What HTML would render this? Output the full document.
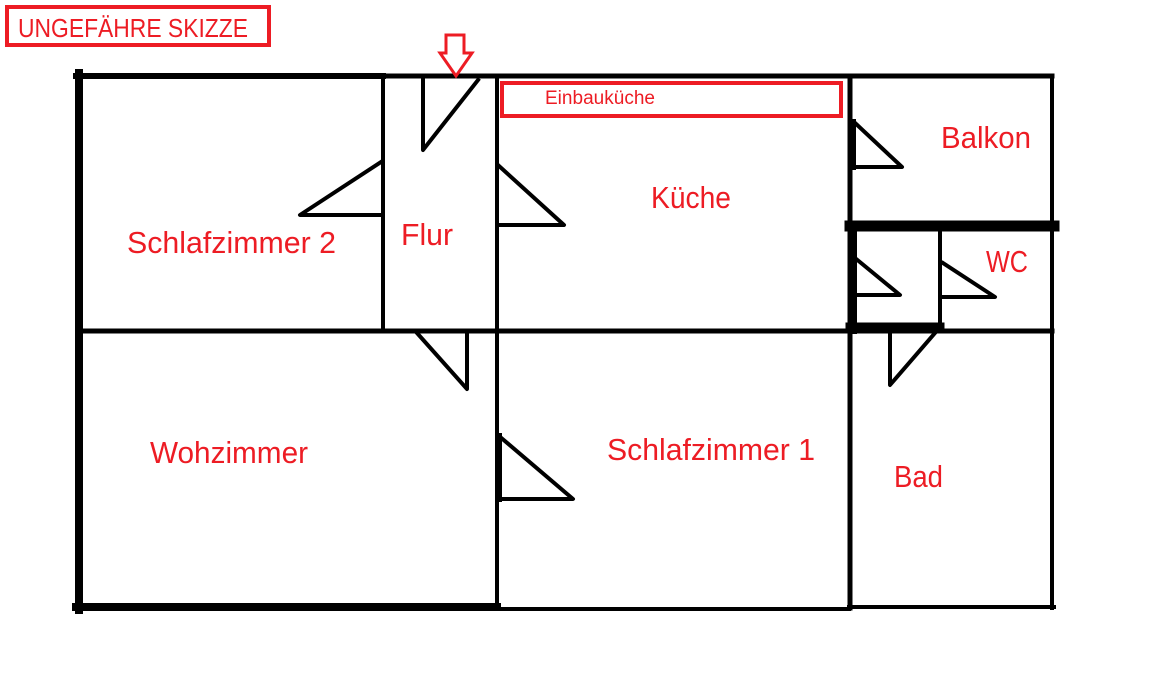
<!DOCTYPE html>
<html><head><meta charset="utf-8"><style>
html,body{margin:0;padding:0;background:#fff;}
svg{display:block;}
text{font-family:"Liberation Sans",sans-serif;fill:#ed1c24;}
</style></head><body>
<svg width="1152" height="688" viewBox="0 0 1152 688" xmlns="http://www.w3.org/2000/svg">
<rect width="1152" height="688" fill="#fff"/>
<g stroke="#000" fill="none" stroke-linecap="square">
<!-- outer left wall -->
<line x1="79" y1="73" x2="79" y2="610" stroke-width="8"/>
<!-- top walls -->
<line x1="76" y1="76" x2="383" y2="76" stroke-width="6"/>
<line x1="383" y1="76" x2="1052" y2="76" stroke-width="5"/>
<!-- right wall -->
<line x1="1052" y1="76" x2="1052" y2="608" stroke-width="4"/>
<!-- flur walls -->
<line x1="383" y1="76" x2="383" y2="330" stroke-width="4"/>
<line x1="497" y1="76" x2="497" y2="609" stroke-width="4"/>
<!-- kitchen right wall -->
<line x1="850" y1="76" x2="850" y2="608" stroke-width="5"/>
<line x1="853" y1="122" x2="853" y2="167" stroke-width="6"/>
<!-- middle horizontal -->
<line x1="79" y1="331" x2="1052" y2="331" stroke-width="5"/>
<!-- balkon/wc separator -->
<line x1="850" y1="226" x2="1054" y2="226" stroke-width="11"/>
<!-- small room -->
<line x1="853" y1="226" x2="853" y2="330" stroke-width="8"/>
<line x1="940" y1="226" x2="940" y2="328" stroke-width="4"/>
<line x1="850" y1="327" x2="940" y2="327" stroke-width="9"/>
<!-- bottoms -->
<line x1="76" y1="607" x2="497" y2="607" stroke-width="8"/>
<line x1="497" y1="609" x2="849" y2="609" stroke-width="4"/>
<line x1="849" y1="607" x2="1054" y2="607" stroke-width="4"/>
<!-- doors -->
<polyline points="478,80 423,150 423,80" stroke-width="4" stroke-linejoin="round"/>
<polyline points="381,162 300,215 381,215" stroke-width="4" stroke-linejoin="round"/>
<polyline points="499,166 564,225 499,225" stroke-width="4" stroke-linejoin="round"/>
<polyline points="854,122 902,167 854,167" stroke-width="4" stroke-linejoin="round"/>
<polyline points="855,258 900,295 855,295" stroke-width="4" stroke-linejoin="round"/>
<polyline points="943,263 995,297 943,297" stroke-width="4" stroke-linejoin="round"/>
<polyline points="417,333 467,389 467,333" stroke-width="4" stroke-linejoin="round"/>
<polyline points="935,333 890,385 890,333" stroke-width="4" stroke-linejoin="round"/>
<polyline points="499,436 573,499 499,499" stroke-width="4" stroke-linejoin="round"/>
<line x1="499" y1="436" x2="499" y2="499" stroke-width="6"/>
</g>
<!-- red annotations -->
<rect x="7" y="7" width="262" height="38" fill="none" stroke="#ed1c24" stroke-width="4"/>
<text x="18" y="37" font-size="26" textLength="230" lengthAdjust="spacingAndGlyphs">UNGEFÄHRE SKIZZE</text>
<polygon points="446,35 464,35 464,53 472,53 456,76 440,53 446,53" fill="#fff" stroke="#ed1c24" stroke-width="3" stroke-linejoin="miter"/>
<rect x="502" y="83" width="339" height="33" fill="none" stroke="#ed1c24" stroke-width="4"/>
<text x="545" y="104" font-size="19" textLength="110" lengthAdjust="spacingAndGlyphs">Einbauküche</text>
<text x="127" y="253" font-size="31" textLength="209" lengthAdjust="spacingAndGlyphs">Schlafzimmer 2</text>
<text x="401" y="245" font-size="31" textLength="52" lengthAdjust="spacingAndGlyphs">Flur</text>
<text x="651" y="208" font-size="31" textLength="80" lengthAdjust="spacingAndGlyphs">Küche</text>
<text x="941" y="148" font-size="31" textLength="90" lengthAdjust="spacingAndGlyphs">Balkon</text>
<text x="986" y="272" font-size="31" textLength="42" lengthAdjust="spacingAndGlyphs">WC</text>
<text x="150" y="463" font-size="31" textLength="158" lengthAdjust="spacingAndGlyphs">Wohzimmer</text>
<text x="607" y="460" font-size="31" textLength="208" lengthAdjust="spacingAndGlyphs">Schlafzimmer 1</text>
<text x="894" y="487" font-size="31" textLength="49" lengthAdjust="spacingAndGlyphs">Bad</text>
</svg>
</body></html>
